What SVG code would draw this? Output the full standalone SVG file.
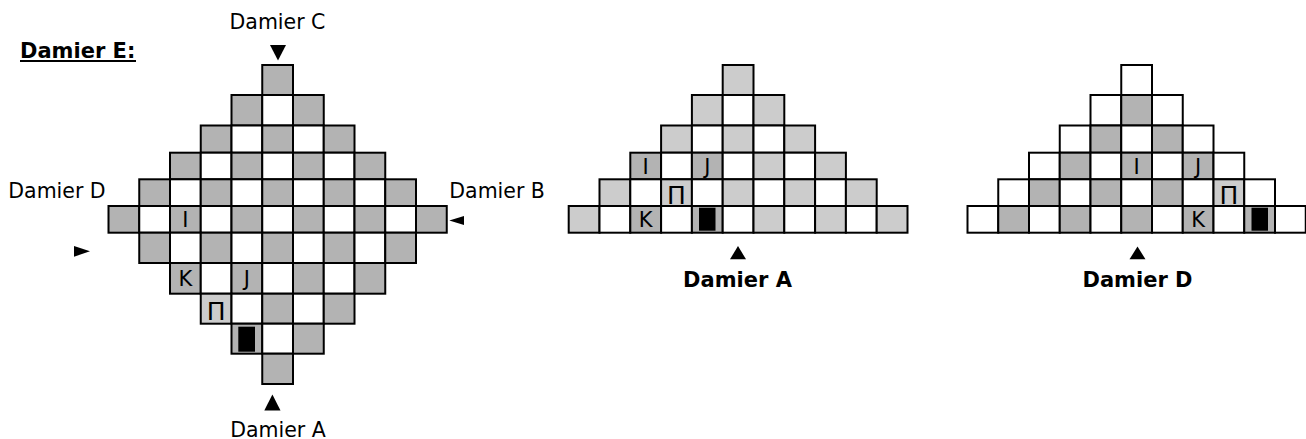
<svg xmlns="http://www.w3.org/2000/svg" width="1306" height="439" viewBox="0 0 1306 439">
<style>
.g,.w,.l{stroke:#000;stroke-width:2}
.g{fill:#b3b3b3}
.w{fill:#fff}
.l{fill:#cccccc}
.blk{fill:#000;stroke:none}
text{font-family:"DejaVu Sans",sans-serif;fill:#000}
.lab{font-size:20.5px}
.bold{font-size:21px;font-weight:bold}
.ch{font-size:21px;text-anchor:middle}
.pi{font-size:25px;text-anchor:middle}
.tri{fill:#000}
</style>
<rect x="0" y="0" width="1306" height="439" fill="#fff"/>

<g id="damier-e">
<rect class="g" x="262.25" y="65" width="30.75" height="30"/>
<rect class="g" x="231.5" y="95" width="30.75" height="30.5"/><rect class="w" x="262.25" y="95" width="30.75" height="30.5"/><rect class="g" x="293" y="95" width="30.75" height="30.5"/>
<rect class="g" x="200.75" y="125.5" width="30.75" height="27.2"/><rect class="w" x="231.5" y="125.5" width="30.75" height="27.2"/><rect class="g" x="262.25" y="125.5" width="30.75" height="27.2"/><rect class="w" x="293" y="125.5" width="30.75" height="27.2"/><rect class="g" x="323.75" y="125.5" width="30.75" height="27.2"/>
<rect class="g" x="170" y="152.7" width="30.75" height="26.6"/><rect class="w" x="200.75" y="152.7" width="30.75" height="26.6"/><rect class="g" x="231.5" y="152.7" width="30.75" height="26.6"/><rect class="w" x="262.25" y="152.7" width="30.75" height="26.6"/><rect class="g" x="293" y="152.7" width="30.75" height="26.6"/><rect class="w" x="323.75" y="152.7" width="30.75" height="26.6"/><rect class="g" x="354.5" y="152.7" width="30.75" height="26.6"/>
<rect class="g" x="139.25" y="179.3" width="30.75" height="26.7"/><rect class="w" x="170" y="179.3" width="30.75" height="26.7"/><rect class="g" x="200.75" y="179.3" width="30.75" height="26.7"/><rect class="w" x="231.5" y="179.3" width="30.75" height="26.7"/><rect class="g" x="262.25" y="179.3" width="30.75" height="26.7"/><rect class="w" x="293" y="179.3" width="30.75" height="26.7"/><rect class="g" x="323.75" y="179.3" width="30.75" height="26.7"/><rect class="w" x="354.5" y="179.3" width="30.75" height="26.7"/><rect class="g" x="385.25" y="179.3" width="30.75" height="26.7"/>
<rect class="g" x="108.5" y="206" width="30.75" height="26.7"/><rect class="w" x="139.25" y="206" width="30.75" height="26.7"/><rect class="g" x="170" y="206" width="30.75" height="26.7"/><rect class="w" x="200.75" y="206" width="30.75" height="26.7"/><rect class="g" x="231.5" y="206" width="30.75" height="26.7"/><rect class="w" x="262.25" y="206" width="30.75" height="26.7"/><rect class="g" x="293" y="206" width="30.75" height="26.7"/><rect class="w" x="323.75" y="206" width="30.75" height="26.7"/><rect class="g" x="354.5" y="206" width="30.75" height="26.7"/><rect class="w" x="385.25" y="206" width="30.75" height="26.7"/><rect class="g" x="416" y="206" width="30.75" height="26.7"/>
<rect class="g" x="139.25" y="232.7" width="30.75" height="30.3"/><rect class="w" x="170" y="232.7" width="30.75" height="30.3"/><rect class="g" x="200.75" y="232.7" width="30.75" height="30.3"/><rect class="w" x="231.5" y="232.7" width="30.75" height="30.3"/><rect class="g" x="262.25" y="232.7" width="30.75" height="30.3"/><rect class="w" x="293" y="232.7" width="30.75" height="30.3"/><rect class="g" x="323.75" y="232.7" width="30.75" height="30.3"/><rect class="w" x="354.5" y="232.7" width="30.75" height="30.3"/><rect class="g" x="385.25" y="232.7" width="30.75" height="30.3"/>
<rect class="g" x="170" y="263" width="30.75" height="30.7"/><rect class="w" x="200.75" y="263" width="30.75" height="30.7"/><rect class="g" x="231.5" y="263" width="30.75" height="30.7"/><rect class="w" x="262.25" y="263" width="30.75" height="30.7"/><rect class="g" x="293" y="263" width="30.75" height="30.7"/><rect class="w" x="323.75" y="263" width="30.75" height="30.7"/><rect class="g" x="354.5" y="263" width="30.75" height="30.7"/>
<rect class="l" x="200.75" y="293.7" width="30.75" height="30"/><rect class="w" x="231.5" y="293.7" width="30.75" height="30"/><rect class="g" x="262.25" y="293.7" width="30.75" height="30"/><rect class="w" x="293" y="293.7" width="30.75" height="30"/><rect class="g" x="323.75" y="293.7" width="30.75" height="30"/>
<rect class="g" x="231.5" y="323.7" width="30.75" height="30"/><rect class="w" x="262.25" y="323.7" width="30.75" height="30"/><rect class="g" x="293" y="323.7" width="30.75" height="30"/>
<rect class="g" x="262.25" y="353.7" width="30.75" height="30.3"/>
<text class="ch" x="185.4" y="227">I</text>
<text class="ch" x="185.4" y="286">K</text>
<text class="ch" x="246.9" y="286">J</text>
<text class="pi" x="216.1" y="320">Π</text>
<rect class="blk" x="238.3" y="326.7" width="16.7" height="25"/>
</g>

<g id="damier-a">
<rect class="l" x="722.7" y="65" width="30.8" height="30"/>
<rect class="l" x="691.9" y="95" width="30.8" height="30.5"/><rect class="w" x="722.7" y="95" width="30.8" height="30.5"/><rect class="l" x="753.5" y="95" width="30.8" height="30.5"/>
<rect class="l" x="661.1" y="125.5" width="30.8" height="27.2"/><rect class="w" x="691.9" y="125.5" width="30.8" height="27.2"/><rect class="l" x="722.7" y="125.5" width="30.8" height="27.2"/><rect class="w" x="753.5" y="125.5" width="30.8" height="27.2"/><rect class="l" x="784.3" y="125.5" width="30.8" height="27.2"/>
<rect class="g" x="630.3" y="152.7" width="30.8" height="26.6"/><rect class="w" x="661.1" y="152.7" width="30.8" height="26.6"/><rect class="g" x="691.9" y="152.7" width="30.8" height="26.6"/><rect class="w" x="722.7" y="152.7" width="30.8" height="26.6"/><rect class="l" x="753.5" y="152.7" width="30.8" height="26.6"/><rect class="w" x="784.3" y="152.7" width="30.8" height="26.6"/><rect class="l" x="815.1" y="152.7" width="30.8" height="26.6"/>
<rect class="l" x="599.5" y="179.3" width="30.8" height="26.7"/><rect class="w" x="630.3" y="179.3" width="30.8" height="26.7"/><rect class="l" x="661.1" y="179.3" width="30.8" height="26.7"/><rect class="w" x="691.9" y="179.3" width="30.8" height="26.7"/><rect class="l" x="722.7" y="179.3" width="30.8" height="26.7"/><rect class="w" x="753.5" y="179.3" width="30.8" height="26.7"/><rect class="l" x="784.3" y="179.3" width="30.8" height="26.7"/><rect class="w" x="815.1" y="179.3" width="30.8" height="26.7"/><rect class="l" x="845.9" y="179.3" width="30.8" height="26.7"/>
<rect class="l" x="568.7" y="206" width="30.8" height="26.7"/><rect class="w" x="599.5" y="206" width="30.8" height="26.7"/><rect class="g" x="630.3" y="206" width="30.8" height="26.7"/><rect class="w" x="661.1" y="206" width="30.8" height="26.7"/><rect class="g" x="691.9" y="206" width="30.8" height="26.7"/><rect class="w" x="722.7" y="206" width="30.8" height="26.7"/><rect class="l" x="753.5" y="206" width="30.8" height="26.7"/><rect class="w" x="784.3" y="206" width="30.8" height="26.7"/><rect class="l" x="815.1" y="206" width="30.8" height="26.7"/><rect class="w" x="845.9" y="206" width="30.8" height="26.7"/><rect class="l" x="876.7" y="206" width="30.8" height="26.7"/>
<text class="ch" x="645.7" y="173.7">I</text>
<text class="ch" x="707.3" y="173.7">J</text>
<text class="pi" x="676.5" y="203.8">Π</text>
<text class="ch" x="645.7" y="227">K</text>
<rect class="blk" x="699" y="207.7" width="16.5" height="23"/>
</g>

<g id="damier-d">
<rect class="w" x="1121.25" y="65" width="30.75" height="30"/>
<rect class="w" x="1090.5" y="95" width="30.75" height="30.5"/><rect class="g" x="1121.25" y="95" width="30.75" height="30.5"/><rect class="w" x="1152" y="95" width="30.75" height="30.5"/>
<rect class="w" x="1059.75" y="125.5" width="30.75" height="27.2"/><rect class="g" x="1090.5" y="125.5" width="30.75" height="27.2"/><rect class="w" x="1121.25" y="125.5" width="30.75" height="27.2"/><rect class="g" x="1152" y="125.5" width="30.75" height="27.2"/><rect class="w" x="1182.75" y="125.5" width="30.75" height="27.2"/>
<rect class="w" x="1029" y="152.7" width="30.75" height="26.6"/><rect class="g" x="1059.75" y="152.7" width="30.75" height="26.6"/><rect class="w" x="1090.5" y="152.7" width="30.75" height="26.6"/><rect class="g" x="1121.25" y="152.7" width="30.75" height="26.6"/><rect class="w" x="1152" y="152.7" width="30.75" height="26.6"/><rect class="g" x="1182.75" y="152.7" width="30.75" height="26.6"/><rect class="w" x="1213.5" y="152.7" width="30.75" height="26.6"/>
<rect class="w" x="998.25" y="179.3" width="30.75" height="26.7"/><rect class="g" x="1029" y="179.3" width="30.75" height="26.7"/><rect class="w" x="1059.75" y="179.3" width="30.75" height="26.7"/><rect class="g" x="1090.5" y="179.3" width="30.75" height="26.7"/><rect class="w" x="1121.25" y="179.3" width="30.75" height="26.7"/><rect class="g" x="1152" y="179.3" width="30.75" height="26.7"/><rect class="w" x="1182.75" y="179.3" width="30.75" height="26.7"/><rect class="l" x="1213.5" y="179.3" width="30.75" height="26.7"/><rect class="w" x="1244.25" y="179.3" width="30.75" height="26.7"/>
<rect class="w" x="967.5" y="206" width="30.75" height="26.7"/><rect class="g" x="998.25" y="206" width="30.75" height="26.7"/><rect class="w" x="1029" y="206" width="30.75" height="26.7"/><rect class="g" x="1059.75" y="206" width="30.75" height="26.7"/><rect class="w" x="1090.5" y="206" width="30.75" height="26.7"/><rect class="g" x="1121.25" y="206" width="30.75" height="26.7"/><rect class="w" x="1152" y="206" width="30.75" height="26.7"/><rect class="g" x="1182.75" y="206" width="30.75" height="26.7"/><rect class="w" x="1213.5" y="206" width="30.75" height="26.7"/><rect class="g" x="1244.25" y="206" width="30.75" height="26.7"/><rect class="w" x="1275" y="206" width="30.75" height="26.7"/>
<text class="ch" x="1136.6" y="173.7">I</text>
<text class="ch" x="1198.1" y="173.7">J</text>
<text class="pi" x="1228.9" y="203.8">Π</text>
<text class="ch" x="1198.1" y="227">K</text>
<rect class="blk" x="1251.5" y="207.7" width="16.5" height="23"/>
</g>

<g id="connectors">
<polygon class="tri" points="270,45 286,45 278,60.5"/>
<polygon class="tri" points="264.3,410.5 280.5,410.5 272.4,394.5"/>
<polygon class="tri" points="74,246 74,256.7 90,251.3"/>
<polygon class="tri" points="464,216 464,225 449.3,220.5"/>
<polygon class="tri" points="730,259.3 746,259.3 738,246"/>
<polygon class="tri" points="1129.5,259.3 1145.5,259.3 1137.5,246.5"/>
</g>

<g id="labels">
<text class="bold" x="20" y="58">Damier E:</text>
<rect x="20" y="60" width="116" height="2" fill="#000"/>
<text class="lab" x="277.5" y="28.5" text-anchor="middle">Damier C</text>
<text class="lab" x="8.3" y="197.5">Damier D</text>
<text class="lab" x="449.3" y="197.5">Damier B</text>
<text class="lab" x="278" y="436.5" text-anchor="middle">Damier A</text>
<text class="bold" x="737.5" y="286.7" text-anchor="middle">Damier A</text>
<text class="bold" x="1137.5" y="286.7" text-anchor="middle">Damier D</text>
</g>
</svg>
